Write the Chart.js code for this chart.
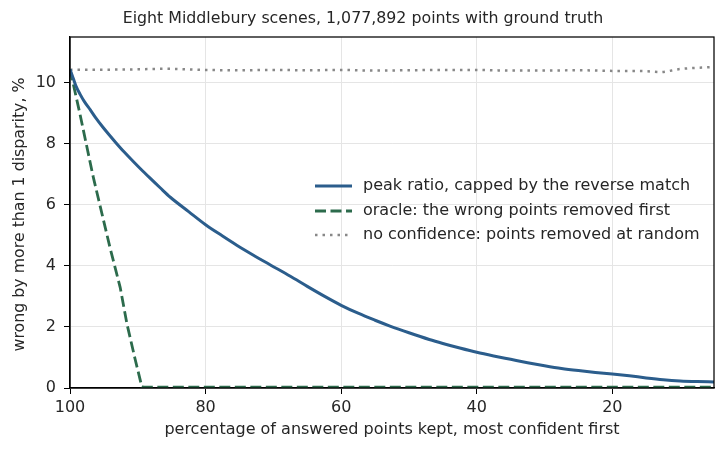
<!DOCTYPE html>
<html>
<head>
<meta charset="utf-8">
<script src="https://cdn.jsdelivr.net/npm/chart.js@4/dist/chart.umd.min.js"></script>
<style>
html,body{margin:0;padding:0;background:#fff;}
#c{display:block;}
</style>
</head>
<body>
<canvas id="c" width="726" height="453"></canvas>
<script>
// ---- data ----
const titleText = "Eight Middlebury scenes, 1,077,892 points with ground truth";
const xAxisTitle = "percentage of answered points kept, most confident first";
const yAxisTitle = "wrong by more than 1 disparity, %";
const xTicks = [100, 80, 60, 40, 20];
const yTicks = [0, 2, 4, 6, 8, 10];

const peakX = [100, 99.5, 99.1, 98.5, 97.9, 97, 96.2, 95.2, 94.2, 93.2, 92, 90.7, 89.5, 88.3, 86.7, 85.2, 82.5, 80, 77.5, 75.4, 73, 70.5, 67.5, 65, 62.5, 60, 57.5, 55, 52.8, 50, 47, 45, 42.5, 40, 37.5, 35, 32.5, 30, 27.5, 25, 22.5, 20, 17.5, 15, 12.5, 10, 7.5, 5];
const peakY = [10.44, 10.13, 9.88, 9.62, 9.39, 9.11, 8.85, 8.56, 8.29, 8.03, 7.73, 7.43, 7.16, 6.9, 6.56, 6.25, 5.78, 5.35, 4.98, 4.68, 4.36, 4.04, 3.66, 3.33, 3.01, 2.71, 2.45, 2.22, 2.03, 1.81, 1.59, 1.46, 1.31, 1.17, 1.05, 0.94, 0.83, 0.73, 0.64, 0.57, 0.51, 0.46, 0.4, 0.33, 0.27, 0.23, 0.21, 0.2];

const oracleX = [100, 98.6, 96.6, 94.1, 92.6, 91.6, 90.4, 89.4, 89, 85, 80, 70, 60, 50, 40, 30, 20, 10, 5];
const oracleY = [10.44, 9.05, 6.94, 4.6, 3.3, 2.1, 0.95, 0.04, 0.03, 0.03, 0.03, 0.03, 0.03, 0.03, 0.03, 0.03, 0.03, 0.03, 0.03];

const randX = [100, 95, 90, 86, 80, 75, 70, 65, 60, 55, 50, 45, 40, 35, 30, 25, 20, 15, 13, 10, 5];
const randY = [10.43, 10.43, 10.44, 10.46, 10.42, 10.41, 10.42, 10.41, 10.42, 10.40, 10.41, 10.42, 10.42, 10.40, 10.40, 10.41, 10.39, 10.38, 10.35, 10.45, 10.52];

const seriesNames = [
  "peak ratio, capped by the reverse match",
  "oracle: the wrong points removed first",
  "no confidence: points removed at random"
];

// ---- build ----
const toPts = (xs, ys) => xs.map((x, i) => ({x: x, y: ys[i]}));
const FONT = "'DejaVu Sans', sans-serif";
const TXT = '#262626';

const framePlugin = {
  id: 'frame',
  afterDraw(chart) {
    const ctx = chart.ctx, a = chart.chartArea;
    ctx.save();
    ctx.strokeStyle = '#000';
    ctx.lineWidth = 1.25;
    ctx.strokeRect(a.left, a.top, a.right - a.left, a.bottom - a.top);
    // title
    ctx.fillStyle = TXT;
    ctx.font = "15.8px " + FONT;
    ctx.textAlign = 'center';
    ctx.textBaseline = 'middle';
    ctx.fillText(titleText, chart.width / 2, 19);
    // axis titles
    ctx.font = "16px " + FONT;
    ctx.fillText(xAxisTitle, (a.left + a.right) / 2, 430);
    ctx.save();
    ctx.font = "15.8px " + FONT;
    ctx.translate(20, (a.top + a.bottom) / 2 + 2);
    ctx.rotate(-Math.PI / 2);
    ctx.fillText(yAxisTitle, 0, 0);
    ctx.restore();
    // legend
    const ds = chart.data.datasets;
    const rows = [186, 211, 235];
    ctx.font = "16px " + FONT;
    ctx.textAlign = 'left';
    ds.forEach((d, i) => {
      const y = rows[i];
      ctx.beginPath();
      ctx.strokeStyle = d.borderColor;
      ctx.lineWidth = d.borderWidth;
      ctx.setLineDash(d.borderDash || []);
      ctx.lineCap = 'butt';
      ctx.moveTo(315, y);
      ctx.lineTo(352, y);
      ctx.stroke();
      ctx.setLineDash([]);
      ctx.fillStyle = TXT;
      ctx.fillText(d.label, 363, y);
    });
    ctx.restore();
  }
};

new Chart(document.getElementById('c'), {
  type: 'line',
  data: {
    datasets: [
      {label: seriesNames[0], data: toPts(peakX, peakY), borderColor: '#2b5d8c', borderWidth: 3, pointRadius: 0, cubicInterpolationMode: 'monotone', fill: false},
      {label: seriesNames[1], data: toPts(oracleX, oracleY), borderColor: '#2c6b4c', borderWidth: 2.8, borderDash: [11, 4.5], pointRadius: 0, tension: 0, fill: false},
      {label: seriesNames[2], data: toPts(randX, randY), borderColor: '#888888', borderWidth: 2.5, borderDash: [2.5, 5], pointRadius: 0, cubicInterpolationMode: 'monotone', fill: false}
    ]
  },
  options: {
    responsive: false,
    animation: false,
    devicePixelRatio: 1,
    layout: {padding: {top: 37, right: 12, left: 0, bottom: 0}},
    plugins: {legend: {display: false}, title: {display: false}, tooltip: {enabled: false}},
    scales: {
      x: {
        type: 'linear', reverse: true, min: 5, max: 100,
        afterBuildTicks: s => { s.ticks = xTicks.map(v => ({value: v})); },
        afterFit: s => { s.height = 65; },
        grid: {color: '#e5e5e5', lineWidth: 1, tickColor: '#000', tickLength: 6, drawTicks: true},
        border: {display: true, color: '#000', width: 1.25},
        ticks: {color: TXT, font: {family: FONT, size: 16}, padding: 4, maxRotation: 0}
      },
      y: {
        type: 'linear', min: 0, max: 11.5,
        afterBuildTicks: s => { s.ticks = yTicks.map(v => ({value: v})); },
        afterFit: s => { s.width = 70; },
        grid: {color: '#e5e5e5', lineWidth: 1, tickColor: '#000', tickLength: 6, drawTicks: true},
        border: {display: true, color: '#000', width: 1.25},
        ticks: {color: TXT, font: {family: FONT, size: 16}, padding: 8}
      }
    }
  },
  plugins: [framePlugin]
});
</script>
</body>
</html>
